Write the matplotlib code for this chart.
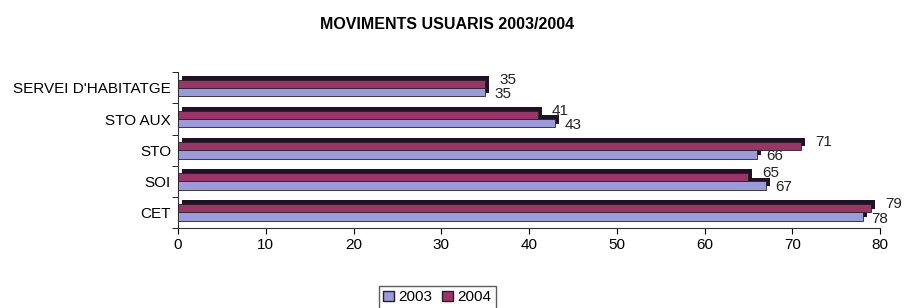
import matplotlib
matplotlib.use('Agg')
import matplotlib.pyplot as plt
import numpy as np
from matplotlib.patches import Patch

plt.rcParams['font.family'] = ['Liberation Sans', 'DejaVu Sans']

# Data
categories = ['CET', 'SOI', 'STO', 'STO AUX', "SERVEI D'HABITATGE"]
values_2003 = [78, 67, 66, 43, 35]
values_2004 = [79, 65, 71, 41, 35]

col_2003 = '#9b9bdc'
col_2004 = '#9c3468'
shadow = '#1e1226'

fig = plt.figure(figsize=(9.13, 3.08), dpi=100)
ax = fig.add_axes([0.195, 0.26, 0.769, 0.505])

y = np.arange(len(categories))
h = 0.27
dx, dy = 0.45, 0.12

# 3D-ish shadow behind bars
ax.barh(y + h / 2 + dy, values_2004, height=h, left=dx, color=shadow, zorder=2)
ax.barh(y - h / 2 + dy, values_2003, height=h, left=dx, color=shadow, zorder=2)
ax.barh(y + h / 2, values_2004, height=h, color=col_2004, edgecolor='#222222', linewidth=0.6, zorder=3)
ax.barh(y - h / 2, values_2003, height=h, color=col_2003, edgecolor='#222222', linewidth=0.6, zorder=3)

for yi, v3, v4 in zip(y, values_2003, values_2004):
    ax.text(v4 + 1.6, yi + 0.27, str(v4), fontsize=11, color='#222222', va='center', ha='left')
    ax.text(v3 + 1.0, yi - 0.2, str(v3), fontsize=11, color='#222222', va='center', ha='left')

ax.set_xlim(0, 80)
ax.set_ylim(-0.5, 4.5)
ax.set_xticks(range(0, 81, 10))
ax.set_yticks(y)
ax.set_yticklabels(categories)
ax.set_yticks(np.arange(-0.5, 5, 1), minor=True)
ax.tick_params(axis='y', which='major', length=0, labelsize=11, pad=5)
ax.tick_params(axis='y', which='minor', length=4, direction='out')
ax.tick_params(axis='x', length=4, direction='out', labelsize=11)
for s in ['top', 'right']:
    ax.spines[s].set_visible(False)
for s in ['left', 'bottom']:
    ax.spines[s].set_color('#333333')

ax.set_title('MOVIMENTS USUARIS 2003/2004', fontsize=11.5, fontweight='bold', pad=31, x=0.383)

handles = [Patch(facecolor=col_2003, edgecolor='#222222', label='2003'),
           Patch(facecolor=col_2004, edgecolor='#222222', label='2004')]
fig.legend(handles=handles, loc='center', bbox_to_anchor=(0.479, 0.035), ncol=2,
           fontsize=11, frameon=True, fancybox=False, edgecolor='#333333',
           handlelength=0.7, handleheight=0.7, handletextpad=0.3, columnspacing=0.6,
           borderpad=0.3)

fig.savefig('out.png', dpi=100)
